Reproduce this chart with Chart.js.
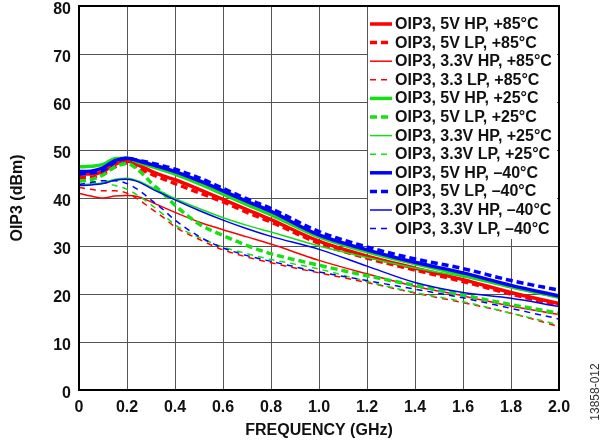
<!DOCTYPE html>
<html>
<head>
<meta charset="utf-8">
<script src="https://cdn.jsdelivr.net/npm/chart.js@4.4.1/dist/chart.umd.min.js"></script>
<style>
  html, body { margin: 0; padding: 0; background: #fff; }
  #grafica { display: block; }
</style>
</head>
<body>
<canvas id="grafica" width="607" height="446"></canvas>
<script>
// frecuencias (GHz) comunes a todas las curvas
const frecuencias = [0, 0.05, 0.1, 0.15, 0.2, 0.25, 0.3, 0.35, 0.4, 0.5, 0.6, 0.7, 0.8, 1.0, 1.2, 1.4, 1.6, 1.8, 2.0];

// OIP3 (dBm)
const hp5v85   = [45.0, 45.0, 45.5, 47.0, 47.7, 46.8, 45.6, 44.6, 43.8, 41.8, 39.7, 37.6, 35.5, 31.0, 27.9, 25.4, 23.0, 20.3, 18.0];
const lp5v85   = [44.2, 44.3, 45.0, 46.5, 47.3, 46.2, 45.0, 44.0, 43.0, 41.1, 39.2, 37.0, 35.0, 30.6, 27.5, 25.0, 22.6, 20.0, 17.6];
const hp33v85  = [41.0, 40.4, 40.0, 40.4, 40.5, 40.2, 39.2, 38.1, 37.0, 35.0, 33.4, 31.9, 30.4, 27.0, 24.2, 21.6, 19.6, 17.5, 15.7];
const lp33v85  = [42.2, 41.8, 41.5, 41.5, 41.0, 39.6, 37.8, 36.0, 34.0, 31.4, 29.2, 27.7, 26.5, 24.4, 22.4, 20.2, 18.2, 16.0, 13.2];
const hp5v25   = [46.5, 46.6, 47.0, 48.2, 48.3, 47.4, 46.6, 45.8, 45.0, 43.0, 40.8, 38.6, 36.5, 31.9, 28.8, 26.3, 24.0, 21.5, 19.3];
const lp5v25   = [43.5, 43.8, 44.8, 46.5, 47.2, 45.7, 43.2, 41.0, 38.5, 34.6, 32.2, 30.1, 28.4, 26.0, 23.8, 21.8, 19.8, 17.8, 16.0];
const hp33v25  = [42.8, 42.9, 43.2, 43.9, 44.1, 43.5, 42.3, 41.1, 39.9, 37.8, 35.9, 34.3, 32.9, 30.0, 27.6, 25.4, 23.6, 21.3, 19.2];
const lp33v25  = [43.5, 43.4, 43.2, 42.6, 41.8, 40.4, 38.6, 36.6, 34.4, 31.8, 29.8, 28.4, 27.2, 25.2, 22.6, 20.3, 18.4, 16.0, 13.6];
const hp5vm40  = [45.5, 45.6, 46.3, 47.8, 48.3, 47.7, 47.0, 46.3, 45.5, 43.6, 41.5, 39.3, 37.2, 32.3, 29.2, 26.6, 24.4, 21.8, 19.6];
const lp5vm40  = [45.0, 45.2, 45.8, 47.5, 48.3, 47.8, 47.3, 46.7, 46.0, 44.2, 42.0, 39.8, 37.8, 33.0, 29.8, 27.3, 25.3, 22.8, 20.8];
const hp33vm40 = [42.6, 42.7, 43.0, 43.7, 43.9, 43.3, 42.0, 40.8, 39.6, 37.4, 35.4, 33.6, 32.0, 29.3, 25.8, 22.4, 20.3, 19.1, 17.4];
const lp33vm40 = [42.8, 43.2, 43.6, 43.6, 43.0, 41.6, 39.6, 37.6, 35.4, 32.0, 29.6, 28.0, 26.8, 24.6, 22.8, 21.0, 19.2, 17.0, 14.8];

const etiquetas = [
    "OIP3, 5V HP, +85°C", "OIP3, 5V LP, +85°C", "OIP3, 3.3V HP, +85°C", "OIP3, 3.3 LP, +85°C",
    "OIP3, 5V HP, +25°C", "OIP3, 5V LP, +25°C", "OIP3, 3.3V HP, +25°C", "OIP3, 3.3V LP, +25°C",
    "OIP3, 5V HP, \u201340°C", "OIP3, 5V LP, \u201340°C", "OIP3, 3.3V HP, \u201340°C", "OIP3, 3.3V LP, \u201340°C"
];
const series = [hp5v85, lp5v85, hp33v85, lp33v85, hp5v25, lp5v25, hp33v25, lp33v25, hp5vm40, lp5vm40, hp33vm40, lp33vm40];

const ROJO = "#ff0000", VERDE = "#14e014", AZUL = "#0000ff";
const colores = [ROJO, ROJO, ROJO, ROJO, VERDE, VERDE, VERDE, VERDE, AZUL, AZUL, AZUL, AZUL];
const FUENTE = "'Liberation Sans', Arial, sans-serif";

function estilo(i) {
    const grueso = (i % 4) < 2;
    const rayado = (i % 2) === 1;
    return {
        borderWidth: grueso ? 3.5 : 1.5,
        borderDash: rayado ? (grueso ? [7, 4] : [6, 5]) : []
    };
}

const datasets = series.map((valores, i) => ({
    label: etiquetas[i],
    data: valores.map((v, k) => ({ x: frecuencias[k], y: v })),
    borderColor: colores[i],
    backgroundColor: colores[i],
    ...estilo(i),
    pointRadius: 0,
    fill: false,
    cubicInterpolationMode: 'monotone',
    order: colores[i] === ROJO ? 3 : (colores[i] === VERDE ? 2 : 1)
}));

// leyenda propia dentro del area de la grafica, con fondo blanco
const leyenda = {
    id: 'leyenda',
    afterDatasetsDraw(chart) {
        const ctx = chart.ctx;
        const area = chart.chartArea;
        const x0 = area.right - 191;
        const filaY = 24, altoFila = 18.6;
        ctx.save();
        ctx.fillStyle = "#fff";
        ctx.fillRect(x0, area.top + 1, area.right - 2 - x0, 232);
        ctx.font = "bold 16px " + FUENTE;
        ctx.textBaseline = "middle";
        chart.data.datasets.forEach((ds, i) => {
            const y = filaY + i * altoFila;
            ctx.strokeStyle = ds.borderColor;
            ctx.lineWidth = ds.borderWidth;
            ctx.setLineDash(ds.borderDash);
            ctx.beginPath();
            ctx.moveTo(x0 + 2, y);
            ctx.lineTo(x0 + 24, y);
            ctx.stroke();
            ctx.setLineDash([]);
            ctx.fillStyle = "#111";
            ctx.fillText(ds.label, x0 + 27, y + 0.5);
        });
        ctx.restore();
    },
    afterDraw(chart) {
        const ctx = chart.ctx;
        const a = chart.chartArea;
        ctx.save();
        ctx.strokeStyle = "#000";
        ctx.lineWidth = 2;
        ctx.strokeRect(a.left, a.top, a.right - a.left, a.bottom - a.top);
        // codigo de figura
        ctx.translate(596, 392);
        ctx.rotate(-Math.PI / 2);
        ctx.font = "12px " + FUENTE;
        ctx.fillStyle = "#333";
        ctx.textAlign = "center";
        ctx.textBaseline = "middle";
        ctx.fillText("13858-012", 0, 0);
        ctx.restore();
    }
};

new Chart(document.getElementById('grafica').getContext('2d'), {
    type: 'line',
    data: { datasets: datasets },
    plugins: [leyenda],
    options: {
        responsive: false,
        devicePixelRatio: 1,
        animation: false,
        layout: { padding: { left: 0, top: 6, right: 48, bottom: 0 } },
        plugins: { legend: { display: false }, tooltip: { enabled: false } },
        scales: {
            x: {
                type: 'linear',
                min: 0, max: 2,
                afterFit: s => { s.height = 56; s.paddingLeft = 0; s.paddingRight = 0; },
                grid: { color: "#555", lineWidth: 1, drawTicks: false },
                border: { color: "#000", width: 2 },
                ticks: {
                    stepSize: 0.2,
                    padding: 8,
                    color: "#111",
                    font: { family: FUENTE, size: 16, weight: 'bold' },
                    maxRotation: 0,
                    callback: v => v === 0 ? "0" : v.toFixed(1)
                },
                title: {
                    display: true,
                    text: "FREQUENCY (GHz)",
                    color: "#111",
                    font: { family: FUENTE, size: 16, weight: 'bold' },
                    padding: { top: 4, bottom: 6 }
                }
            },
            y: {
                min: 0, max: 80,
                afterFit: s => { s.width = 79; s.paddingTop = 0; s.paddingBottom = 0; },
                grid: { color: "#555", lineWidth: 1, drawTicks: false },
                border: { color: "#000", width: 2 },
                ticks: {
                    stepSize: 10,
                    padding: 8,
                    labelOffset: 4,
                    color: "#111",
                    font: { family: FUENTE, size: 16, weight: 'bold' }
                },
                title: {
                    display: true,
                    text: "OIP3 (dBm)",
                    color: "#111",
                    font: { family: FUENTE, size: 16, weight: 'bold' },
                    padding: { top: 8, bottom: 4 }
                }
            }
        }
    }
});
</script>
</body>
</html>
